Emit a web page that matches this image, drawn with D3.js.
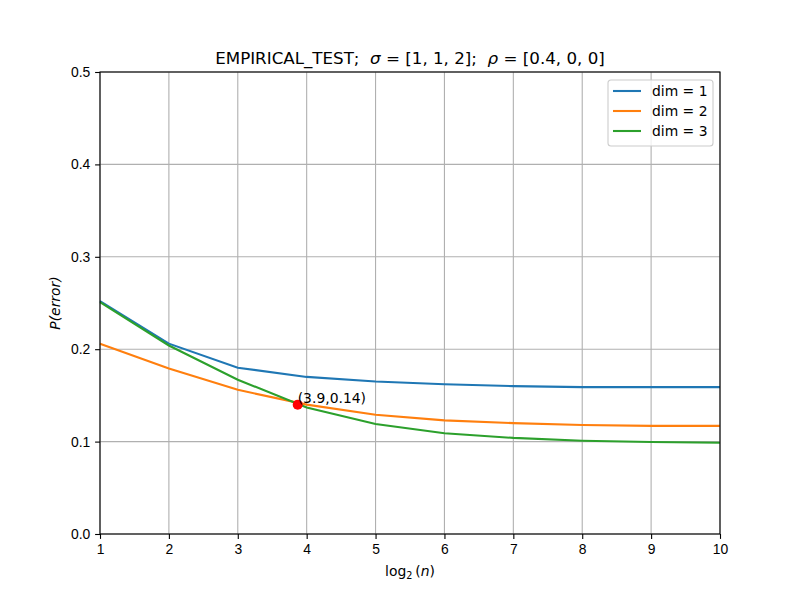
<!DOCTYPE html>
<html>
<head>
<meta charset="utf-8">
<script src="https://cdn.jsdelivr.net/npm/d3@7"></script>
<style>
  body { margin: 0; background: #fff; }
  svg { font-family: "DejaVu Sans", sans-serif; }
  .grid line { stroke: #b0b0b0; stroke-width: 1.1; }
  .axis path, .axis line { stroke: #000; stroke-width: 1.1; }
  .axis text { font-size: 13.9px; fill: #000; }
</style>
</head>
<body>
<svg id="chart" width="800" height="600"></svg>
<script>
// ---- data ----
const logN = [1, 2, 3, 4, 5, 6, 7, 8, 9, 10];
const dim1 = [0.252, 0.206, 0.180, 0.170, 0.165, 0.162, 0.160, 0.159, 0.159, 0.159];
const dim2 = [0.206, 0.179, 0.156, 0.140, 0.129, 0.123, 0.120, 0.118, 0.117, 0.117];
const dim3 = [0.251, 0.204, 0.167, 0.137, 0.119, 0.109, 0.104, 0.101, 0.0995, 0.0988];
const seriesNames = ["dim = 1", "dim = 2", "dim = 3"];
const seriesColors = ["#1f77b4", "#ff7f0e", "#2ca02c"];
const marker = {x: 3.87, y: 0.14, label: "(3.9,0.14)"};
const xTicks = [1, 2, 3, 4, 5, 6, 7, 8, 9, 10];
const yTicks = [0, 0.1, 0.2, 0.3, 0.4, 0.5];

const series = [dim1, dim2, dim3];

// ---- layout (matplotlib default axes box) ----
const margin = {left: 100, right: 80, top: 72, bottom: 66};
const width = 800, height = 600;
const svg = d3.select("#chart");

const x = d3.scaleLinear().domain([1, 10]).range([margin.left, width - margin.right]);
const y = d3.scaleLinear().domain([0, 0.5]).range([height - margin.bottom, margin.top]);

// grid
const grid = svg.append("g").attr("class", "grid");
grid.selectAll(".gx").data(xTicks).join("line")
  .attr("x1", d => x(d)).attr("x2", d => x(d))
  .attr("y1", y(0)).attr("y2", y(0.5));
grid.selectAll(".gy").data(yTicks).join("line")
  .attr("y1", d => y(d)).attr("y2", d => y(d))
  .attr("x1", x(1)).attr("x2", x(10));

// lines
const line = d3.line().x((d, i) => x(logN[i])).y(d => y(d));
svg.append("g").selectAll("path")
  .data(series)
  .join("path")
    .attr("fill", "none")
    .attr("stroke", (d, i) => seriesColors[i])
    .attr("stroke-width", 2.1)
    .attr("d", line);

// marked point
svg.append("circle")
  .attr("cx", x(marker.x)).attr("cy", y(marker.y))
  .attr("r", 5).attr("fill", "red");
svg.append("text")
  .attr("x", x(marker.x)).attr("y", y(marker.y) - 1.5)
  .attr("font-size", "13.9px")
  .text(marker.label);

// axes
svg.append("g").attr("class", "axis")
  .attr("transform", `translate(0,${y(0)})`)
  .call(d3.axisBottom(x).tickValues(xTicks).tickSize(4.9).tickPadding(4.8).tickFormat(d3.format("d")))
  .call(g => g.select(".domain").remove());
svg.append("g").attr("class", "axis")
  .attr("transform", `translate(${x(1)},0)`)
  .call(d3.axisLeft(y).tickValues(yTicks).tickSize(4.9).tickPadding(4.8).tickFormat(d3.format(".1f")))
  .call(g => g.select(".domain").remove());

// frame
svg.append("rect")
  .attr("x", x(1)).attr("y", y(0.5))
  .attr("width", x(10) - x(1)).attr("height", y(0) - y(0.5))
  .attr("fill", "none").attr("stroke", "#000").attr("stroke-width", 1.1);

// title
const title = svg.append("text")
  .attr("x", (x(1) + x(10)) / 2).attr("y", 64)
  .attr("text-anchor", "middle").attr("font-size", "16.7px");
title.append("tspan").text("EMPIRICAL_TEST;\u00a0\u00a0");
title.append("tspan").attr("font-style", "italic").text("σ");
title.append("tspan").text(" = [1, 1, 2];\u00a0\u00a0");
title.append("tspan").attr("font-style", "italic").text("ρ");
title.append("tspan").text(" = [0.4, 0, 0]");

// x label
const xl = svg.append("text")
  .attr("x", (x(1) + x(10)) / 2).attr("y", 576)
  .attr("text-anchor", "middle").attr("font-size", "13.9px");
xl.append("tspan").text("log");
xl.append("tspan").attr("font-size", "9.7px").attr("dy", 3).text("2");
xl.append("tspan").attr("dy", -3).text("\u2009(");
xl.append("tspan").attr("font-style", "italic").text("n");
xl.append("tspan").text(")");

// y label
svg.append("text")
  .attr("transform", `translate(60,${(y(0) + y(0.5)) / 2}) rotate(-90)`)
  .attr("text-anchor", "middle").attr("font-size", "13.9px")
  .attr("font-style", "italic")
  .text("P(error)");

// legend
const lg = svg.append("g").attr("transform", "translate(608,80)");
lg.append("rect")
  .attr("width", 105).attr("height", 66).attr("rx", 3)
  .attr("fill", "#fff").attr("fill-opacity", 0.8)
  .attr("stroke", "#ccc").attr("stroke-width", 1.1);
seriesNames.forEach((name, i) => {
  const yy = 11 + i * 20;
  lg.append("line")
    .attr("x1", 5).attr("x2", 33).attr("y1", yy).attr("y2", yy)
    .attr("stroke", seriesColors[i]).attr("stroke-width", 2.1);
  lg.append("text")
    .attr("x", 44).attr("y", yy + 5)
    .attr("font-size", "13.9px")
    .text(name);
});
</script>
